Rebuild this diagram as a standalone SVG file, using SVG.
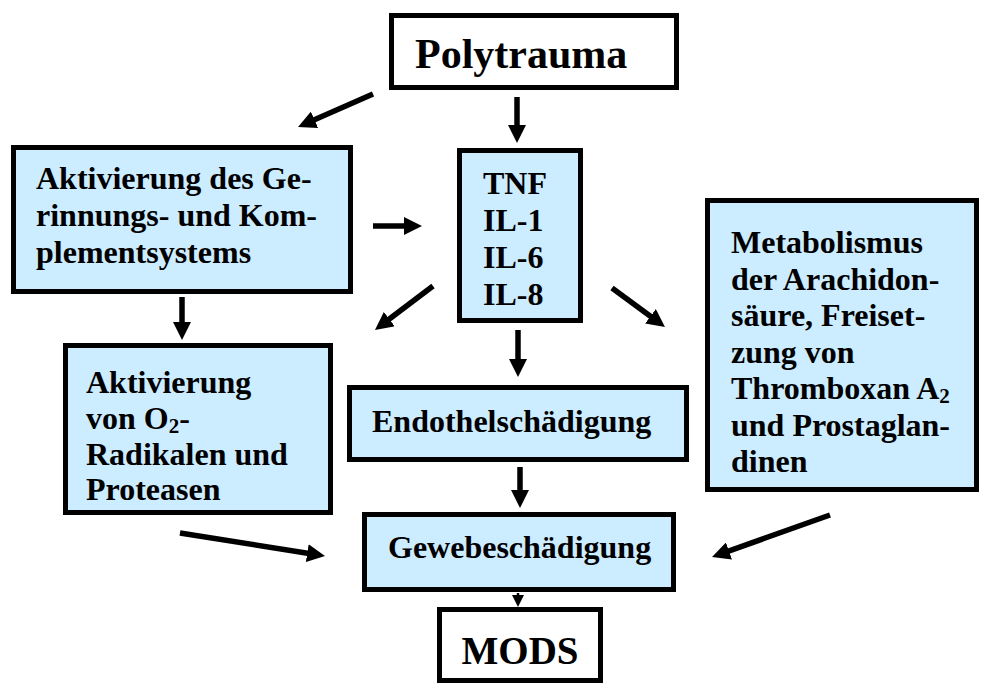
<svg xmlns="http://www.w3.org/2000/svg" width="984" height="684" viewBox="0 0 984 684">
<defs>
<style>
.box{fill:#CCECFF;stroke:#000;stroke-width:5}
.wbox{fill:#fff;stroke:#000;stroke-width:5}
text{font-family:"Liberation Serif","Times New Roman",serif;font-weight:bold;fill:#000}
.t32{font-size:32px}
.t42{font-size:42px}
.sub{font-size:21px}
.arr{stroke:#000;stroke-width:5.5;fill:none;marker-end:url(#ah)}
.arrs{stroke:#000;stroke-width:2.5;fill:none;marker-end:url(#ahs)}
</style>
<marker id="ah" markerUnits="userSpaceOnUse" markerWidth="18" markerHeight="18" refX="2" refY="9" orient="auto"><path d="M0,0 L18,9 L0,18 z" fill="#000"/></marker>
<marker id="ahs" markerUnits="userSpaceOnUse" markerWidth="12" markerHeight="12" refX="1" refY="6" orient="auto"><path d="M0,0 L12,6 L0,12 z" fill="#000"/></marker>
</defs>
<rect width="984" height="684" fill="#fff"/>
<g id="connectors">
<line class="arr" x1="373" y1="94" x2="312.7" y2="120.6"/>
<line class="arr" x1="517" y1="97" x2="517" y2="127"/>
<line class="arr" x1="373" y1="226" x2="406" y2="226"/>
<line class="arr" x1="433" y1="286" x2="387.7" y2="320.3"/>
<line class="arr" x1="612" y1="288" x2="652.1" y2="317.5"/>
<line class="arr" x1="518" y1="330" x2="518" y2="361"/>
<line class="arr" x1="182" y1="297" x2="182" y2="324"/>
<line class="arr" x1="520" y1="467" x2="520" y2="492"/>
<line class="arr" x1="180" y1="533" x2="309.2" y2="553.5"/>
<line class="arr" x1="830" y1="515" x2="727.1" y2="551.6"/>
<line class="arrs" x1="518" y1="593" x2="518" y2="596"/>
</g>
<g id="polytrauma">
<rect class="wbox" x="391.5" y="15.5" width="285" height="72"/>
<text class="t42" x="415" y="68">Polytrauma</text>
</g>
<g id="gerinnung">
<rect class="box" x="13.5" y="147.5" width="337" height="144"/>
<text class="t32" x="36" y="189">Aktivierung des Ge-</text>
<text class="t32" x="36" y="226">rinnungs- und Kom-</text>
<text class="t32" x="36" y="263">plementsystems</text>
</g>
<g id="zytokine">
<rect class="box" x="459.5" y="150.5" width="121" height="170"/>
<text class="t32" x="483" y="194">TNF</text>
<text class="t32" x="483" y="231">IL-1</text>
<text class="t32" x="483" y="268">IL-6</text>
<text class="t32" x="483" y="305">IL-8</text>
</g>
<g id="arachidon">
<rect class="box" x="707.5" y="200.5" width="269" height="289"/>
<text class="t32" x="731" y="253">Metabolismus</text>
<text class="t32" x="731" y="290">der Arachidon-</text>
<text class="t32" x="731" y="326">säure, Freiset-</text>
<text class="t32" x="731" y="363">zung von</text>
<text class="t32" x="731" y="399">Thromboxan A<tspan class="sub" dy="4">2</tspan></text>
<text class="t32" x="731" y="436">und Prostaglan-</text>
<text class="t32" x="731" y="472">dinen</text>
</g>
<g id="radikale">
<rect class="box" x="65.5" y="345.5" width="265" height="167"/>
<text class="t32" x="86" y="393">Aktivierung</text>
<text class="t32" x="86" y="429">von O<tspan class="sub" dy="4">2</tspan><tspan dy="-4">-</tspan></text>
<text class="t32" x="86" y="465">Radikalen und</text>
<text class="t32" x="86" y="500">Proteasen</text>
</g>
<g id="endothel">
<rect class="box" x="349.5" y="387.5" width="337" height="72"/>
<text class="t32" x="372" y="432">Endothelschädigung</text>
</g>
<g id="gewebe">
<rect class="box" x="364.5" y="514.5" width="309" height="75"/>
<text class="t32" x="388" y="558">Gewebeschädigung</text>
</g>
<g id="mods">
<rect class="wbox" x="439.5" y="609.5" width="161" height="71"/>
<text x="520" y="664" font-size="39" text-anchor="middle">MODS</text>
</g>
</svg>
